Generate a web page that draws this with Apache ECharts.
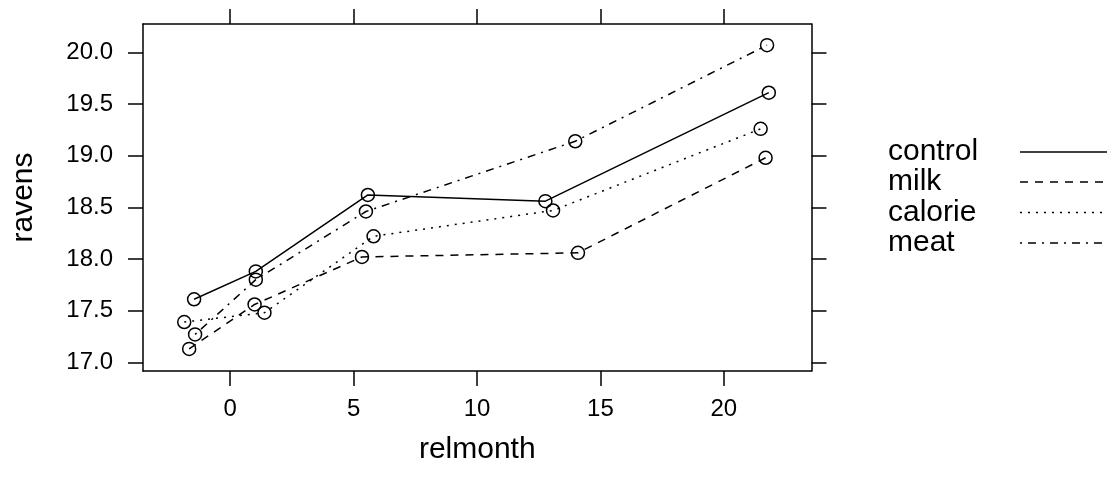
<!DOCTYPE html>
<html>
<head>
<meta charset="utf-8">
<script src="https://cdn.jsdelivr.net/npm/echarts@6/dist/echarts.min.js"></script>
<style>
  html, body { margin: 0; padding: 0; background: #fff; }
  #chart { width: 1107px; height: 481px; }
</style>
</head>
<body>
<div id="chart"></div>
<script>
// values
const groups = ['control', 'milk', 'calorie', 'meat']
const controlX = [-1.46, 1.04, 5.58, 12.77, 21.82]
const controlY = [17.61, 17.88, 18.62, 18.56, 19.61]
const milkX = [-1.66, 0.99, 5.34, 14.09, 21.69]
const milkY = [17.13, 17.56, 18.02, 18.06, 18.98]
const calorieX = [-1.86, 1.39, 5.81, 13.08, 21.49]
const calorieY = [17.39, 17.48, 18.22, 18.47, 19.26]
const meatX = [-1.42, 1.04, 5.50, 13.98, 21.75]
const meatY = [17.27, 17.80, 18.46, 19.14, 20.07]
const xTicks = [0, 5, 10, 15, 20]
const yTicks = [17.0, 17.5, 18.0, 18.5, 19.0, 19.5, 20.0]

const FONT = '"Liberation Sans", Arial, Helvetica, sans-serif'
const dashes = {
  control: 'solid',
  milk: [8, 7],
  calorie: [2, 6],
  meat: [2, 6, 8, 6]
}
const xs = { control: controlX, milk: milkX, calorie: calorieX, meat: meatX }
const ys = { control: controlY, milk: milkY, calorie: calorieY, meat: meatY }

const chart = echarts.init(document.getElementById('chart'))

const axisLine = { show: true, onZero: false, lineStyle: { color: '#000', width: 1.5 } }
const tickStyle = (vals) => ({
  show: true, length: 15, inside: false, customValues: vals,
  lineStyle: { color: '#000', width: 1.5 }
})

const series = groups.map(g => ({
  name: g,
  type: 'line',
  data: xs[g].map((x, i) => [x, ys[g][i]]),
  symbol: 'circle',
  symbolSize: 13,
  itemStyle: { color: 'transparent', borderColor: '#000', borderWidth: 1.5 },
  lineStyle: { color: '#000', width: 1.5, type: dashes[g] },
  emphasis: { disabled: true },
  animation: false
}))

// legend on the right: label first, then line sample
const legendY = [152, 182, 212.5, 243]
const graphic = []
groups.forEach((g, i) => {
  graphic.push({
    type: 'text', left: 888, top: legendY[i] - 15,
    style: { text: g, font: '30px ' + FONT, fill: '#000' }
  })
  graphic.push({
    type: 'line',
    shape: { x1: 1020, y1: legendY[i], x2: 1107, y2: legendY[i] },
    style: { stroke: '#000', lineWidth: 1.5, lineDash: dashes[g] === 'solid' ? null : dashes[g] }
  })
})

const option = {
  backgroundColor: '#fff',
  animation: false,
  grid: { left: 143, right: 295.5, top: 24, bottom: 110, show: false },
  xAxis: [
    {
      type: 'value', position: 'bottom', min: -3.53, max: 23.55,
      axisLine, axisTick: tickStyle(xTicks),
      axisLabel: { customValues: xTicks, color: '#000', fontSize: 24, fontFamily: FONT, margin: 26 },
      splitLine: { show: false },
      name: 'relmonth', nameLocation: 'middle', nameGap: 64,
      nameTextStyle: { color: '#000', fontSize: 30, fontFamily: FONT }
    },
    {
      type: 'value', position: 'top', min: -3.53, max: 23.55,
      axisLine, axisTick: tickStyle(xTicks),
      axisLabel: { show: false }, splitLine: { show: false }
    }
  ],
  yAxis: [
    {
      type: 'value', position: 'left', min: 16.916, max: 20.275,
      axisLine, axisTick: tickStyle(yTicks),
      axisLabel: {
        customValues: yTicks, color: '#000', fontSize: 24, fontFamily: FONT, margin: 30,
        formatter: v => v.toFixed(1)
      },
      splitLine: { show: false },
      name: 'ravens', nameLocation: 'middle', nameGap: 104, nameRotate: 90,
      nameTextStyle: { color: '#000', fontSize: 30, fontFamily: FONT }
    },
    {
      type: 'value', position: 'right', min: 16.916, max: 20.275,
      axisLine, axisTick: tickStyle(yTicks),
      axisLabel: { show: false }, splitLine: { show: false }
    }
  ],
  series: series,
  graphic: graphic
}

chart.setOption(option)
</script>
</body>
</html>
